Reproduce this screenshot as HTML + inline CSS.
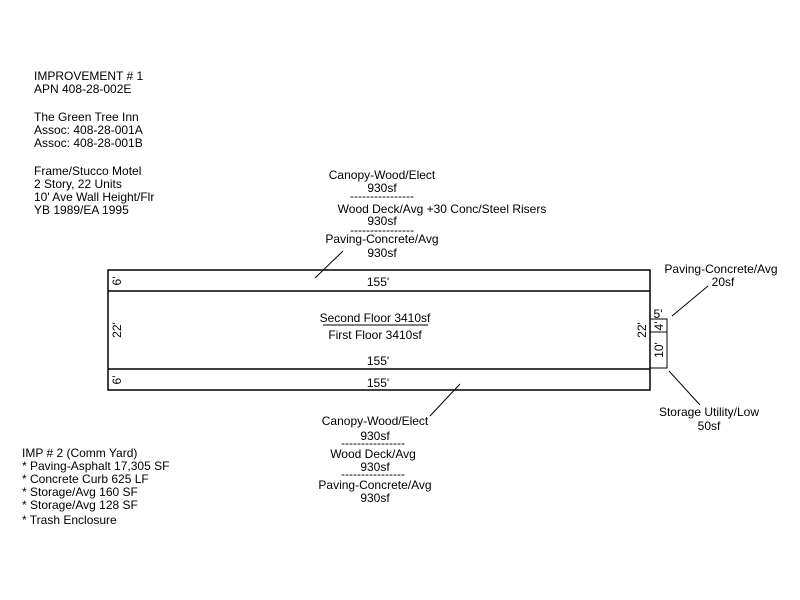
<!DOCTYPE html>
<html><head><style>
body{margin:0;background:#fff;}
svg{display:block;font-family:"Liberation Sans",Arial,sans-serif;font-size:12px;}
</style></head><body>
<svg width="800" height="600" viewBox="0 0 800 600" xmlns="http://www.w3.org/2000/svg">
<g fill="#000">
<text x="34" y="80">IMPROVEMENT # 1</text>
<text x="34" y="93">APN 408-28-002E</text>
<text x="34" y="121">The Green Tree Inn</text>
<text x="34" y="134">Assoc: 408-28-001A</text>
<text x="34" y="147">Assoc: 408-28-001B</text>
<text x="34" y="175">Frame/Stucco Motel</text>
<text x="34" y="188">2 Story, 22 Units</text>
<text x="34" y="201">10' Ave Wall Height/Flr</text>
<text x="34" y="214">YB 1989/EA 1995</text>

<text x="22" y="457">IMP # 2 (Comm Yard)</text>
<text x="22" y="470">* Paving-Asphalt 17,305 SF</text>
<text x="22" y="483">* Concrete Curb 625 LF</text>
<text x="22" y="496">* Storage/Avg 160 SF</text>
<text x="22" y="509">* Storage/Avg 128 SF</text>
<text x="22" y="524">* Trash Enclosure</text>

<g text-anchor="middle">
<text x="382" y="179">Canopy-Wood/Elect</text>
<text x="382" y="192">930sf</text>
<text x="382" y="200">----------------</text>
<text x="442" y="213">Wood Deck/Avg +30 Conc/Steel Risers</text>
<text x="382" y="225">930sf</text>
<text x="382" y="234">----------------</text>
<text x="382" y="243">Paving-Concrete/Avg</text>
<text x="382" y="257">930sf</text>

<text x="378" y="286">155'</text>
<text x="378" y="365">155'</text>
<text x="378" y="387">155'</text>
<text x="375" y="322">Second Floor  3410sf</text>
<text x="375" y="339">First Floor  3410sf</text>

<text x="375" y="425">Canopy-Wood/Elect</text>
<text x="375" y="440">930sf</text>
<text x="373" y="447">----------------</text>
<text x="373" y="458">Wood Deck/Avg</text>
<text x="375" y="471">930sf</text>
<text x="373" y="478">----------------</text>
<text x="375" y="489">Paving-Concrete/Avg</text>
<text x="375" y="502">930sf</text>

<text x="721" y="273">Paving-Concrete/Avg</text>
<text x="723" y="286">20sf</text>
<text x="709" y="416">Storage Utility/Low</text>
<text x="709" y="430">50sf</text>
<text x="658" y="318">5'</text>
</g>
<text transform="translate(121,281) rotate(-90)" text-anchor="middle">6'</text>
<text transform="translate(121,380) rotate(-90)" text-anchor="middle">6'</text>
<text transform="translate(121,330) rotate(-90)" text-anchor="middle">22'</text>
<text transform="translate(646,330) rotate(-90)" text-anchor="middle">22'</text>
<text transform="translate(663,326) rotate(-90)" text-anchor="middle">4'</text>
<text transform="translate(663,350) rotate(-90)" text-anchor="middle">10'</text>
</g>
<g stroke="#000" fill="none">
<rect x="108" y="270" width="542" height="120" stroke-width="1.5"/>
<line x1="108" y1="291" x2="650" y2="291" stroke-width="1.5"/>
<line x1="108" y1="369" x2="650" y2="369" stroke-width="1.5"/>
<rect x="650" y="319" width="17" height="49" stroke-width="1"/>
<line x1="650" y1="332" x2="667" y2="332"/>
<line x1="323" y1="325" x2="428" y2="325"/>
<line x1="315" y1="278" x2="343" y2="251"/>
<line x1="672" y1="316" x2="708" y2="286"/>
<line x1="669" y1="371" x2="700" y2="405"/>
<line x1="430" y1="416" x2="460" y2="384"/>
</g>
</svg>
</body></html>
